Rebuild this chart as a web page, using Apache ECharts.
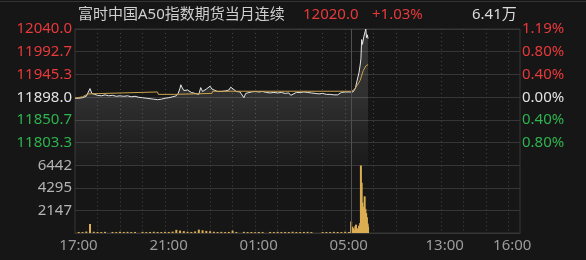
<!DOCTYPE html>
<html><head><meta charset="utf-8">
<script src="https://cdn.jsdelivr.net/npm/echarts@6/dist/echarts.min.js"></script>
<style>html,body{margin:0;padding:0;background:#161616;}#c{width:586px;height:260px;}</style>
</head><body><div id="c"></div>
<script>
// ---- text / scale constants ----
const titleText = '富时中国A50指数期货当月连续';
const volumeText = '6.41万';
const prevClose = 11898.0;
const priceMin = 11756.0;
const priceMax = 12040.0;
const volumeMax = 6442;
const sessions = [['17:00', '05:15'], ['09:00', '16:30']];
const xLabelTimes = ['17:00', '21:00', '01:00', '05:00', '13:00', '16:00'];

// ---- price series ----
const priceTimes = ['17:00','17:10','17:20','17:30','17:35','17:40','17:45','17:50','18:00','18:10','18:20','18:30','18:40','18:50',
  '19:00','19:10','19:20','19:30','19:40','19:50','20:00','20:10','20:20','20:30','20:40','20:50','21:00','21:10','21:20','21:30',
  '21:35','21:40','21:42','21:45','21:50','22:00','22:10','22:20','22:25','22:30','22:35','22:40','22:50','23:00','23:05','23:10',
  '23:20','23:30','23:40','23:50','23:55','00:00','00:10','00:20','00:25','00:30','00:35','00:40','00:50','01:00','01:10','01:20',
  '01:30','01:40','01:50','02:00','02:10','02:20','02:30','02:35','02:40','02:50','03:00','03:10','03:20','03:30','03:40','03:50',
  '04:00','04:10','04:20','04:30','04:35','04:40','04:50','05:00','05:10','05:15',
  '09:00','09:05','09:08','09:11','09:15','09:18','09:21','09:24','09:26','09:28','09:30','09:32','09:34','09:37','09:39','09:41','09:43','09:45'];
const prices = [11896,11896,11897,11900,11904,11916,11906,11902,11902,11901,11903,11901,11902,11900,
  11901,11900,11901,11899,11900,11898,11897,11896,11895,11894,11893,11894,11896,11897,11899,11901,
  11906,11917,11924,11919,11912,11913,11908,11906,11910,11904,11918,11910,11915,11921,11915,11916,
  11910,11910,11911,11913,11919,11917,11910,11909,11906,11897,11906,11909,11909,11910,11909,11910,
  11908,11907,11908,11907,11908,11906,11907,11902,11906,11908,11908,11909,11908,11907,11906,11905,
  11906,11904,11904,11903,11901,11903,11908,11909,11909,11908,
  11909,11909,11912,11916,11930,11940,11950,11965,11978,12018,12008,12010,12025,12034,12040,12022,12028,12020];

// ---- average price series ----
const avgTimes = ['17:00','17:20','17:35','17:40','20:40','20:42','21:25','21:27','23:05','23:07','05:15',
  '09:00','09:05','09:13','09:24','09:32','09:39','09:45'];
const avgPrices = [11896,11899,11905,11909,11909,11904,11904,11906,11906,11910.5,11910.5,
  11910,11912,11919,11933,11953,11963,11966];

// ---- volume series ----
const volTimes = ['17:00','17:10','17:20','17:30','17:40','17:50','18:00','18:10','18:20','18:30','18:40','18:50',
  '19:00','19:10','19:20','19:30','19:40','19:50','20:00','20:10','20:20','20:30','20:40','20:50',
  '21:00','21:10','21:20','21:30','21:40','21:50','22:00','22:10','22:20','22:30','22:40','22:50',
  '23:00','23:10','23:20','23:30','23:40','23:50','00:00','00:10','00:20','00:30','00:40','00:50',
  '01:00','01:10','01:20','01:30','01:40','01:50','02:00','02:10','02:20','02:30','02:40','02:50',
  '03:00','03:10','03:20','03:30','03:40','03:50','04:00','04:10','04:20','04:30','04:40','04:50','05:00','05:10',
  '09:00','09:03','09:05','09:08','09:11','09:13','09:16','09:19','09:21','09:24','09:26','09:28','09:30','09:32',
  '09:34','09:36','09:38','09:40','09:42','09:44','09:45'];
const volumes = [0,100,90,140,860,120,100,90,110,0,100,90,
  120,100,110,90,100,0,110,90,100,120,100,90,
  110,100,130,300,230,180,120,100,150,320,260,200,
  170,120,100,110,90,100,230,100,0,110,90,100,
  80,100,90,0,100,90,110,90,100,90,120,100,
  90,100,110,90,0,0,90,100,90,110,100,90,120,100,
  1100,600,450,300,650,800,450,350,700,950,6442,4800,2900,2500,
  2200,3500,2300,1900,1500,900,600];

// ---- build minute categories for the trading sessions ----
function toMin(t){ const p = t.split(':'); return (+p[0])*60 + (+p[1]); }
function fmt(m){ m = ((m % 1440) + 1440) % 1440; const h = Math.floor(m/60), mm = m%60; return (h<10?'0':'')+h+':'+(mm<10?'0':'')+mm; }
const categories = [];
sessions.forEach(([a, b]) => {
  let s = toMin(a), e = toMin(b); if (e < s) e += 1440;
  for (let m = s; m <= e; m++) categories.push(fmt(m));
});
const pairs = (ts, vs) => ts.map((t, i) => [categories.indexOf(t), vs[i]]);

const RED = '#e8393b', GREEN = '#2eb34e', WHITE = '#e2e2e2';
const FONT = 'Noto Sans, Noto Sans CJK SC, sans-serif';
const GRIDC = '#363636';
const lastPrice = prices[prices.length - 1];
const chg = (lastPrice - prevClose) / prevClose * 100;

const hourLine = (i, v) => v.endsWith(':00') && v !== '17:00' && v !== '09:00';
const priceColor = v => v > prevClose + 0.01 ? RED : (v < prevClose - 0.01 ? GREEN : WHITE);

const chart = echarts.init(document.getElementById('c'), null, {renderer: 'canvas'});
chart.setOption({
  backgroundColor: '#161616',
  animation: false,
  graphic: [
    {type: 'line', shape: {x1: 0, y1: 1.5, x2: 586, y2: 1.5}, style: {stroke: '#333', lineWidth: 1}},
    {type: 'text', left: 78, top: 7, style: {text: titleText, font: '15px ' + FONT, fill: '#cfcfcf'}},
    {type: 'text', left: 303, top: 7, style: {text: lastPrice.toFixed(1), font: '15px ' + FONT, fill: RED}},
    {type: 'text', left: 372, top: 7, style: {text: (chg >= 0 ? '+' : '') + chg.toFixed(2) + '%', font: '15px ' + FONT, fill: RED}},
    {type: 'text', left: 472, top: 7, style: {text: volumeText, font: '15px ' + FONT, fill: '#dcdcdc'}}
  ],
  grid: [
    {left: 75, right: 66, top: 29, height: 136.5, show: true, borderColor: GRIDC, borderWidth: 1, backgroundColor: 'transparent'},
    {left: 75, right: 66, top: 165.5, height: 67.5, show: true, borderColor: GRIDC, borderWidth: 1, backgroundColor: 'transparent'}
  ],
  xAxis: [
    {gridIndex: 0, type: 'category', data: categories, boundaryGap: false,
      axisLine: {show: false}, axisTick: {show: false}, axisLabel: {show: false},
      splitLine: {show: true, interval: hourLine, lineStyle: {color: '#444', type: [1, 3], width: 1}}},
    {gridIndex: 1, type: 'category', data: categories, boundaryGap: false,
      axisLine: {show: true, lineStyle: {color: GRIDC}}, axisTick: {show: false},
      axisLabel: {show: true, interval: (i, v) => xLabelTimes.includes(v), color: '#9c9c9c',
        fontSize: 15, fontFamily: FONT, margin: 5, lineHeight: 16, padding: [0, 0, 0, 7]},
      splitLine: {show: true, interval: hourLine, lineStyle: {color: '#444', type: [1, 3], width: 1}}}
  ],
  yAxis: [
    {gridIndex: 0, type: 'value', position: 'left', min: priceMin, max: priceMax, interval: (priceMax - priceMin) / 6,
      axisLine: {show: false}, axisTick: {show: false},
      splitLine: {show: true, lineStyle: {color: GRIDC}},
      axisLabel: {margin: 3, fontSize: 15, fontFamily: FONT, padding: [12, 0, 0, 0],
        formatter: v => Math.abs(v - priceMin) < 0.01 ? '' : v.toFixed(1), color: v => priceColor(v)}},
    {gridIndex: 0, type: 'value', position: 'right', min: priceMin, max: priceMax, interval: (priceMax - priceMin) / 6,
      axisLine: {show: false}, axisTick: {show: false}, splitLine: {show: false},
      axisLabel: {margin: 2, fontSize: 15, fontFamily: FONT, padding: [12, 0, 0, 0],
        formatter: v => Math.abs(v - priceMin) < 0.01 ? '' : Math.abs((v - prevClose) / prevClose * 100).toFixed(2) + '%',
        color: v => priceColor(v)}},
    {gridIndex: 1, type: 'value', position: 'left', min: 0, max: volumeMax, interval: volumeMax / 3,
      axisLine: {show: false}, axisTick: {show: false},
      splitLine: {show: true, lineStyle: {color: GRIDC}},
      axisLabel: {margin: 3, fontSize: 15, fontFamily: FONT, color: '#b4b4b4', padding: [12, 0, 0, 0],
        formatter: v => v < 1 ? '' : String(Math.round(v))}}
  ],
  series: [
    {type: 'line', xAxisIndex: 0, yAxisIndex: 0, data: pairs(priceTimes, prices), showSymbol: false, smooth: false,
      lineStyle: {color: '#e6e6e6', width: 1}, z: 3,
      areaStyle: {origin: 'start', color: new echarts.graphic.LinearGradient(0, 29, 0, 165, [
        {offset: 0, color: 'rgba(255,255,255,0.20)'},
        {offset: 0.5, color: 'rgba(255,255,255,0.16)'},
        {offset: 0.82, color: 'rgba(255,255,255,0.07)'},
        {offset: 1, color: 'rgba(255,255,255,0.03)'}], true)},
      markLine: {silent: true, symbol: 'none', label: {show: false}, lineStyle: {color: '#505050', type: 'solid', width: 1},
        data: [{xAxis: categories.indexOf('09:00')}]}},
    {type: 'line', xAxisIndex: 0, yAxisIndex: 0, data: pairs(avgTimes, avgPrices), showSymbol: false,
      lineStyle: {color: '#c9a24c', width: 1}, z: 4},
    {type: 'bar', xAxisIndex: 1, yAxisIndex: 2, data: pairs(volTimes, volumes), barWidth: 2,
      itemStyle: {color: '#dcae52'},
      markLine: {silent: true, symbol: 'none', label: {show: false}, lineStyle: {color: '#505050', type: 'solid', width: 1},
        data: [{xAxis: categories.indexOf('09:00')}]}}
  ]
});
</script></body></html>
